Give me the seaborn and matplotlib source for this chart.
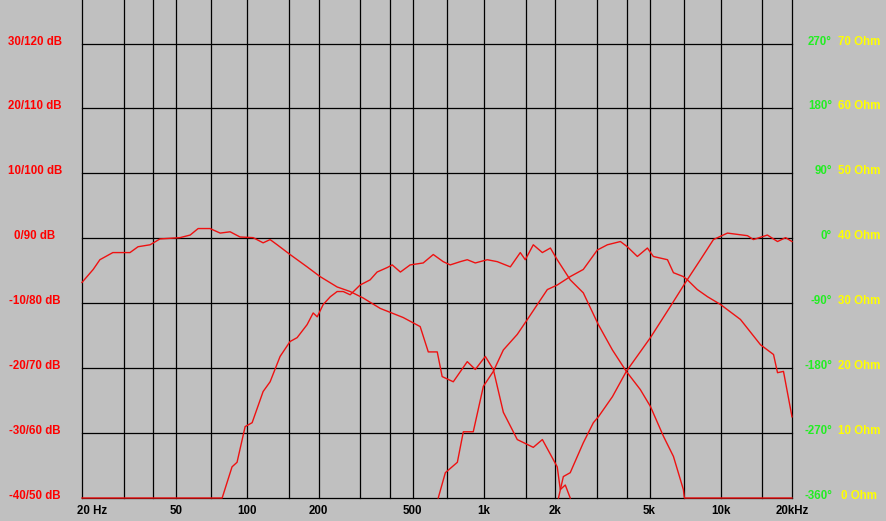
import numpy as np
import pandas as pd
import matplotlib
matplotlib.use("Agg")
import matplotlib.pyplot as plt
import matplotlib.transforms as mtransforms
import seaborn as sns

# frequency responses of the four drivers (Hz, dB)
woofer_hz = [20, 22.3, 23.8, 27, 31.9, 34.5, 38.8, 42.7, 51.9, 57.3, 61.9, 69.5, 76.7, 84.5, 93.1,
             105.7, 116.5, 124.7, 133.6, 151.4, 178.7, 202.8, 239.4, 271.7, 308.4, 364, 455, 537,
             581, 634, 665, 741, 849, 918, 1012, 1094, 1206, 1381, 1614, 1763, 2037, 2099, 2203, 2312]
woofer_db = [-6.8, -4.8, -3.3, -2.2, -2.2, -1.3, -1.0, -0.1, 0.1, 0.5, 1.5, 1.5, 0.8, 1.0, 0.2,
             0.1, -0.7, -0.2, -1.0, -2.5, -4.4, -5.9, -7.5, -8.2, -9.2, -10.8, -12.2, -13.6,
             -17.5, -17.5, -21.3, -22.1, -19.0, -20.2, -18.2, -20.2, -26.8, -31.0, -32.2, -31.0, -35.2, -38.7, -38.0, -40]

mid_hz = [20, 78.2, 86.1, 90.4, 97.8, 104.7, 116.5, 124.7, 137.4, 151.4, 162.2, 178.7, 189.6, 197.2,
          209, 224, 239.4, 254, 271.7, 299.3, 330, 353, 390, 409, 443, 487, 553, 610, 672, 719, 793,
          849, 918, 1031, 1137, 1291, 1422, 1493, 1614, 1763, 1906, 2037, 2312, 2625, 3040, 3485,
          3990, 4572, 5044, 5727, 6311, 6951, 7020, 20000]
mid_db = [-40, -40, -35.2, -34.5, -29.0, -28.4, -23.6, -22.1, -18.2, -15.9, -15.3, -13.3, -11.5, -12.1,
          -10.2, -9.0, -8.2, -8.2, -8.7, -7.2, -6.4, -5.2, -4.5, -4.1, -5.2, -4.1, -3.8, -2.5, -3.6, -4.1, -3.6,
          -3.3, -3.8, -3.3, -3.6, -4.4, -2.2, -3.3, -1.0, -2.2, -1.5, -3.3, -6.4, -8.4, -13.3, -17.2,
          -20.5, -23.3, -25.9, -30.5, -33.6, -38.7, -40, -40]

upper_hz = [640, 686, 771, 817, 900, 993, 1094, 1206, 1381, 1524, 1679, 1850, 2037, 2312, 2625,
            3011, 3319, 3767, 4028, 4443, 4898, 5189, 5955, 6311, 6951, 7227, 7962, 8791, 9977,
            12110, 14720, 16710, 17370, 18410, 20000]
upper_db = [-40, -36.1, -34.5, -29.8, -29.8, -22.8, -20.5, -17.2, -14.8, -12.5, -10.2, -7.9, -7.2, -5.9, -4.8,
            -1.8, -1.0, -0.5, -1.3, -2.8, -1.5, -2.8, -3.3, -5.3, -5.9, -6.4, -7.9, -9.0, -10.2,
            -12.5, -16.4, -17.9, -20.7, -20.5, -27.5]

tweeter_hz = [2062, 2162, 2312, 2477, 2625, 2896, 3040, 3485, 3990, 5044, 6125, 7096, 8204, 9311,
              10670, 12970, 13740, 15740, 17370, 18790, 20000]
tweeter_db = [-40, -36.7, -36.1, -33.6, -31.5, -28.4, -27.5, -24.4, -20.5, -15.3, -10.5, -6.8, -3.3, -0.2,
              0.8, 0.4, -0.2, 0.5, -0.5, 0.1, -0.5]

# axes
grid_hz = [20, 30, 40, 50, 70, 100, 150, 200, 300, 400, 500, 700, 1000, 1500, 2000, 3000, 4000,
           5000, 7000, 10000, 15000, 20000]
freq_ticks = [50, 100, 200, 500, 1000, 2000, 5000, 10000, 20000]
freq_labels = ["50", "100", "200", "500", "1k", "2k", "5k", "10k", "20kHz"]
db_ticks = [30, 20, 10, 0, -10, -20, -30, -40]
db_labels = ["30/120 dB", "20/110 dB", "10/100 dB", "0/90 dB", "-10/80 dB", "-20/70 dB", "-30/60 dB", "-40/50 dB"]
phase_labels = ["270°", "180°", "90°", "0°", "-90°", "-180°", "-270°", "-360°"]
ohm_labels = ["70 Ohm", "60 Ohm", "50 Ohm", "40 Ohm", "30 Ohm", "20 Ohm", "10 Ohm", "0 Ohm"]

bg = "#c0c0c0"
curve_color = "#ee1111"
fs = 8.3

plt.rcParams["font.family"] = ["Liberation Sans", "DejaVu Sans"]

fig = plt.figure(figsize=(8.86, 5.21), dpi=100, facecolor=bg)
ax = fig.add_axes([82 / 886, 23 / 521, 710 / 886, 498 / 521])
ax.set_facecolor(bg)

curves = [(woofer_hz, woofer_db), (mid_hz, mid_db), (upper_hz, upper_db), (tweeter_hz, tweeter_db)]
for hz, db in curves:
    df = pd.DataFrame({"hz": hz, "db": db})
    sns.lineplot(data=df, x="hz", y="db", ax=ax, color=curve_color, lw=1.0,
                 estimator=None, sort=False, zorder=3, clip_on=False)

ax.set_xscale("log")
ax.set_xlim(20, 20000)
ax.set_ylim(-40, 36.7)

for f in grid_hz:
    ax.axvline(f, color="black", lw=0.9, zorder=1, clip_on=False)
for d in db_ticks:
    ax.axhline(d, color="black", lw=0.9, zorder=1, clip_on=False)

ax.set_xticks([])
ax.set_yticks([])
ax.minorticks_off()
ax.set_xlabel("")
ax.set_ylabel("")
for s in ax.spines.values():
    s.set_visible(False)

fx = mtransforms.blended_transform_factory(fig.transFigure, ax.transData)
tx = mtransforms.blended_transform_factory(ax.transData, fig.transFigure)

for d, lab, ph, ohm in zip(db_ticks, db_labels, phase_labels, ohm_labels):
    ax.text(35 / 886, d + 0.3, lab, transform=fx, ha="center", va="center",
            color="#ff0000", fontsize=fs, fontweight="bold")
    ax.text(832 / 886, d + 0.3, ph, transform=fx, ha="right", va="center",
            color="#22ee22", fontsize=fs, fontweight="bold")
    ax.text(859 / 886, d + 0.3, ohm, transform=fx, ha="center", va="center",
            color="#ffff00", fontsize=fs, fontweight="bold")

xlab_y = 1 - 511 / 521
fig.text(77 / 886, xlab_y, "20 Hz", ha="left", va="center",
         color="black", fontsize=fs, fontweight="bold")
for f, lab in zip(freq_ticks, freq_labels):
    ax.text(f, xlab_y, lab, transform=tx, ha="center", va="center",
            color="black", fontsize=fs, fontweight="bold")

fig.savefig("out.png", dpi=100, facecolor=bg)
